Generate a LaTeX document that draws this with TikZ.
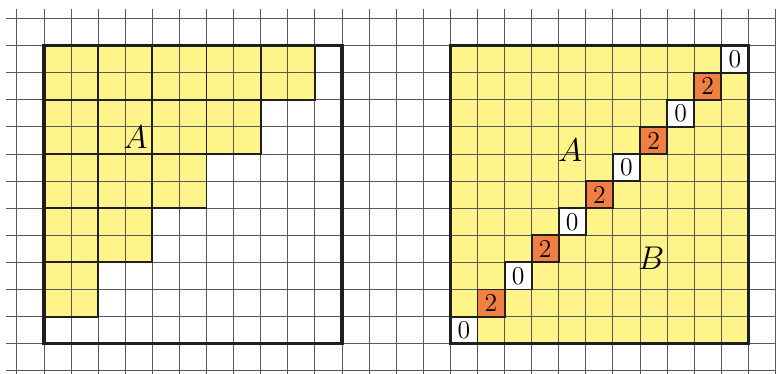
\documentclass[tikz,border=0pt]{standalone}
\definecolor{cellyellow}{RGB}{255,244,138}
\definecolor{cellorange}{RGB}{240,128,66}
\tikzset{
  gridline/.style={draw=black!65, line width=0.5pt},
  blockline/.style={draw=black!88, line width=1pt},
  frameline/.style={draw=black!88, line width=1.6pt},
  biglabel/.style={inner sep=0pt, font=\fontsize{18}{20}\selectfont},
  digit/.style={inner sep=0pt, font=\fontsize{13.5}{15}\selectfont},
}
\begin{document}
\begin{tikzpicture}[x=0.5cm,y=0.5cm]
\useasboundingbox (-1.624,-1.118) rectangle (27.02,12.687);
% yellow fills
\fill[cellyellow] (0,1) -- (0,11) -- (10,11) -- (10,9) -- (8,9) -- (8,7) -- (6,7) -- (6,5) -- (4,5) -- (4,3) -- (2,3) -- (2,1) -- cycle;
\fill[cellyellow] (15,0) rectangle (26,11);
% diagonal cells
\foreach \k in {0,...,10} {
  \pgfmathtruncatemacro\myparity{mod(\k,2)}
  \ifnum\myparity=0
    \fill[white] (15+\k,\k) rectangle +(1,1);
  \else
    \fill[cellorange] (15+\k,\k) rectangle +(1,1);
  \fi
}
% grid
\draw[gridline, step=0.5cm] (-1.4,-1.2) grid (27.1,12.35);
% 2x2 blocks on the left
\foreach \i in {0,...,4} {
  \pgfmathtruncatemacro\m{4-\i}
  \foreach \j in {0,...,\m} {
    \draw[blockline] (2*\i,9-2*\j) rectangle +(2,2);
  }
}
% frames
\draw[frameline] (0,0) rectangle (11,11);
\draw[frameline] (15,0) rectangle (26,11);
% diagonal cell outlines and digits
\foreach \k in {0,...,10} {
  \pgfmathtruncatemacro\myparity{mod(\k,2)}
  \draw[blockline] (15+\k,\k) rectangle +(1,1);
  \ifnum\myparity=0
    \node[digit] (d\k) at (15.5+\k,\k+0.5) {0};
  \else
    \node[digit] (d\k) at (15.5+\k,\k+0.5) {2};
  \fi
}
% labels
\node[biglabel] (A1) at (3.38,7.63) {$A$};
\node[biglabel] (A2) at (19.42,7.15) {$A$};
\node[biglabel] (B2) at (22.41,3.16) {$B$};
\end{tikzpicture}
\end{document}
